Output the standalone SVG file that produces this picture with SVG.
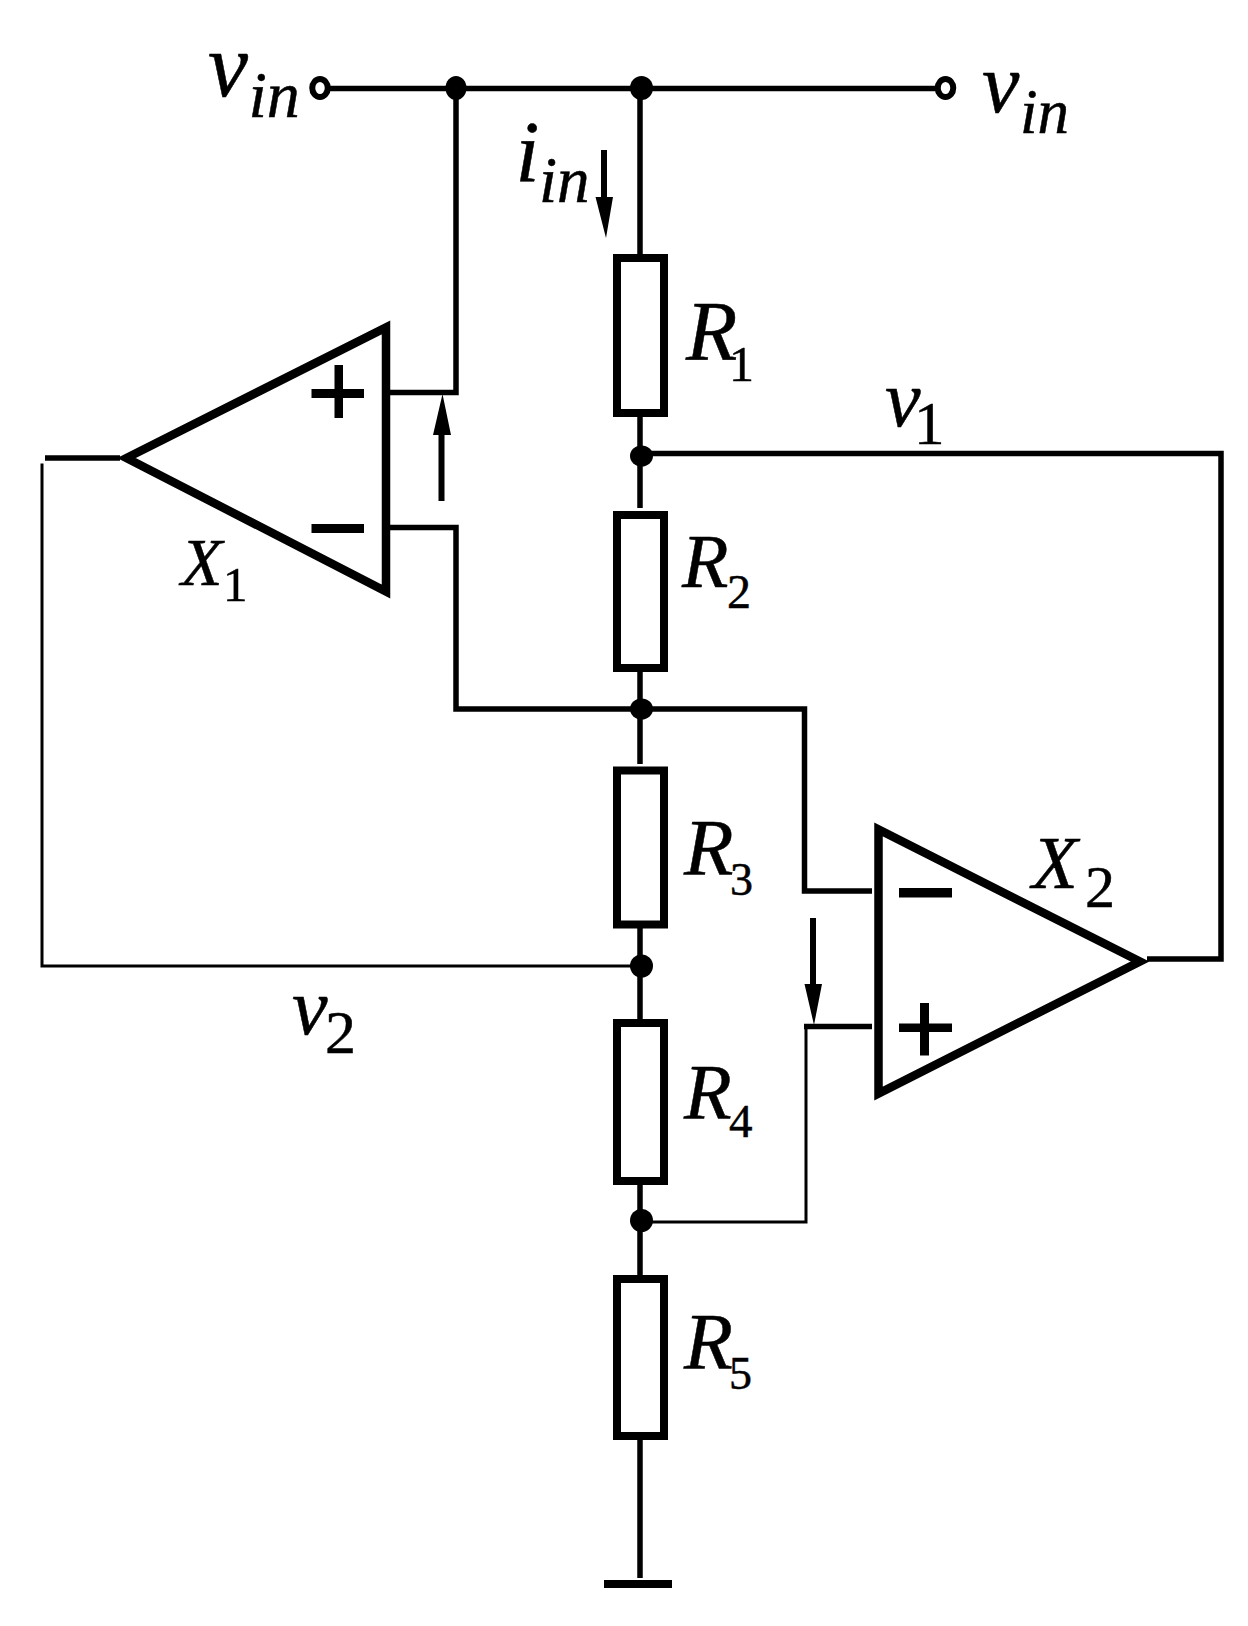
<svg xmlns="http://www.w3.org/2000/svg" width="1248" height="1626" viewBox="0 0 1248 1626">
<style>
.w{fill:none;stroke:#000;stroke-width:5.5;stroke-linecap:butt;stroke-linejoin:miter}
.t{stroke-width:3}
.a{fill:#000;stroke:none}
.res{fill:#fff;stroke:#000;stroke-width:8}
.amp{fill:#fff;stroke:#000;stroke-width:8.5;stroke-miterlimit:10}
.dot{fill:#000;stroke:none}
.term{fill:#fff;stroke:#000;stroke-width:6}
text{font-family:"Liberation Serif","Times New Roman",serif;fill:#000;stroke:#000;stroke-width:.5}
.i{font-style:italic}
.m{letter-spacing:-12px}
</style>
<rect width="1248" height="1626" fill="#fff"/>
<g id="connectors">
<path class="w" d="M320 88.500H945"/>
<path class="w" d="M456 88V392.500H390"/>
<path class="w" d="M640 88V254M640 417V508M640 672V764M640 928V1019M640 1185V1275M640 1440V1578"/>
<path class="w" d="M641 453.500H1221V959H1147"/>
<path class="w" d="M390 527.500H456V709H804.500V891H872"/>
<path class="w" d="M45 458H120"/>
<path class="w t" d="M42 463.500V966H641"/>
<path class="w t" d="M641 1222H806V1026"/>
<path class="w" d="M804 1026.500H872"/>
<path class="a" d="M438.500 501V435H433L442.500 394L451 435H444.500V501Z"/>
<path class="a" d="M601 150V197H595.500L606 238L613 197H607V150Z"/>
<path class="a" d="M810 918V984H804.500L814 1025L822 984H816V918Z"/>
</g>
<g id="terminal-left"><ellipse class="term" cx="320" cy="88" rx="7.750" ry="9"/></g>
<g id="terminal-right"><ellipse class="term" cx="945.500" cy="88" rx="7.750" ry="9"/></g>
<g id="junction-1"><ellipse class="dot" cx="456" cy="88" rx="10.500" ry="12"/></g>
<g id="junction-2"><ellipse class="dot" cx="641.500" cy="88" rx="11.500" ry="12"/></g>
<g id="junction-3"><ellipse class="dot" cx="641.500" cy="456" rx="11.500" ry="10.500"/></g>
<g id="junction-4"><ellipse class="dot" cx="641.500" cy="709" rx="11.500" ry="10.500"/></g>
<g id="junction-5"><ellipse class="dot" cx="641.500" cy="966" rx="11.500" ry="11.500"/></g>
<g id="junction-6"><ellipse class="dot" cx="641.500" cy="1220.500" rx="11.500" ry="11.500"/></g>
<g id="R1"><rect class="res" x="617" y="258" width="47" height="155"/>
<text><tspan class="i m" x="686" y="359.500" font-size="84">R</tspan><tspan x="729" y="380.500" font-size="50">1</tspan></text></g>
<g id="R2"><rect class="res" x="617" y="515" width="47" height="153"/>
<text><tspan class="i m" x="682" y="586.500" font-size="76">R</tspan><tspan x="727" y="608" font-size="48">2</tspan></text></g>
<g id="R3"><rect class="res" x="617" y="770.500" width="47" height="154"/>
<text><tspan class="i m" x="684" y="875" font-size="81">R</tspan><tspan x="730" y="894.500" font-size="46">3</tspan></text></g>
<g id="R4"><rect class="res" x="617" y="1023" width="47" height="158"/>
<text><tspan class="i m" x="684" y="1117.500" font-size="78">R</tspan><tspan x="729" y="1137" font-size="47">4</tspan></text></g>
<g id="R5"><rect class="res" x="617" y="1279" width="47" height="157"/>
<text><tspan class="i m" x="684" y="1369" font-size="80">R</tspan><tspan x="729" y="1389" font-size="46">5</tspan></text></g>
<g id="ground"><rect class="a" x="604" y="1580" width="68" height="8"/></g>
<g id="X1"><polygon class="amp" points="126.500,458 386,327.500 386,591.500"/>
<path class="a" d="M311.500 389H334.500V365H343V389H364V398H343V418H334.500V398H311.500Z"/>
<rect class="a" x="311.500" y="524" width="52.500" height="9"/>
<text><tspan class="i m" x="181" y="584.500" font-size="68">X</tspan><tspan x="223" y="601" font-size="49">1</tspan></text></g>
<g id="X2"><polygon class="amp" points="1140,961.500 878.500,829.500 878.500,1093.500"/>
<rect class="a" x="899" y="888" width="53" height="9.500"/>
<path class="a" d="M899 1023.500H920V1003H929V1023.500H952V1032H929V1055.500H920V1032H899Z"/>
<text><tspan class="i" x="1032" y="888" font-size="75">X</tspan><tspan x="1085" y="907" font-size="60">2</tspan></text></g>
<g id="labels">
<text><tspan class="i" x="208" y="96" font-size="90">v</tspan><tspan class="i" x="248.500" y="117" font-size="66">in</tspan></text>
<text><tspan class="i" x="982" y="112" font-size="84">v</tspan><tspan class="i" x="1020" y="132.500" font-size="63">in</tspan></text>
<text><tspan class="i" x="515.500" y="181" font-size="86">i</tspan><tspan class="i" x="539" y="202" font-size="65">in</tspan></text>
<text><tspan class="i m" x="885" y="426" font-size="80">v</tspan><tspan x="914" y="443.500" font-size="61">1</tspan></text>
<text><tspan class="i m" x="292" y="1034" font-size="80">v</tspan><tspan x="325" y="1052.500" font-size="62">2</tspan></text>
</g>
</svg>
